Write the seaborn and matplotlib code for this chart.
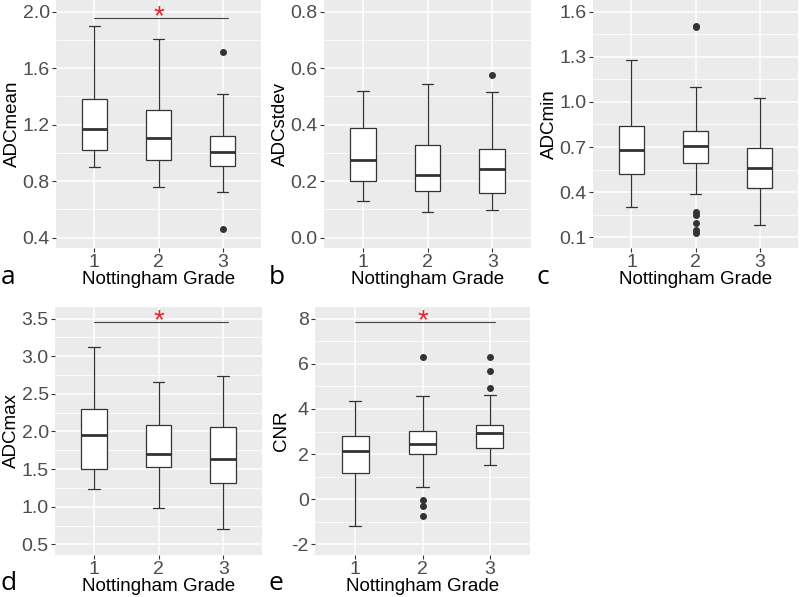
import matplotlib
matplotlib.use("Agg")
import matplotlib.pyplot as plt
from matplotlib.ticker import FixedLocator, FormatStrFormatter
import seaborn as sns

sns.set_theme(
    style="darkgrid",
    rc={
        "axes.facecolor": "#EBEBEB",
        "grid.color": "white",
        "xtick.bottom": True,
        "ytick.left": True,
        "xtick.color": "#333333",
        "ytick.color": "#333333",
        "xtick.labelcolor": "#4D4D4D",
        "ytick.labelcolor": "#4D4D4D",
        "xtick.major.size": 3,
        "ytick.major.size": 3,
        "xtick.major.width": 0.8,
        "ytick.major.width": 0.8,
        "xtick.major.pad": 1.0,
        "ytick.major.pad": 1.5,
    },
)
plt.rcParams["font.family"] = ["Liberation Sans", "DejaVu Sans"]

grades = [1, 2, 3]
grade_labels = ["1", "2", "3"]

# ADCmean
adcmean_med = [1.172, 1.106, 1.006]
adcmean_q1 = [1.023, 0.947, 0.907]
adcmean_q3 = [1.382, 1.301, 1.122]
adcmean_lo = [0.898, 0.756, 0.721]
adcmean_hi = [1.899, 1.804, 1.415]
adcmean_out = [[], [], [1.712, 0.459]]

# ADCstdev
adcstdev_med = [0.274, 0.221, 0.242]
adcstdev_q1 = [0.199, 0.165, 0.158]
adcstdev_q3 = [0.389, 0.329, 0.315]
adcstdev_lo = [0.130, 0.091, 0.099]
adcstdev_hi = [0.519, 0.545, 0.516]
adcstdev_out = [[], [], [0.577]]

# ADCmin
adcmin_med = [0.682, 0.704, 0.558]
adcmin_q1 = [0.523, 0.596, 0.425]
adcmin_q3 = [0.841, 0.806, 0.691]
adcmin_lo = [0.301, 0.388, 0.182]
adcmin_hi = [1.279, 1.096, 1.023]
adcmin_out = [[], [1.507, 1.496, 0.268, 0.250, 0.195, 0.151, 0.129], []]

# ADCmax
adcmax_med = [1.951, 1.695, 1.637]
adcmax_q1 = [1.500, 1.522, 1.314]
adcmax_q3 = [2.305, 2.088, 2.066]
adcmax_lo = [1.230, 0.978, 0.704]
adcmax_hi = [3.119, 2.659, 2.734]
adcmax_out = [[], [], []]

# CNR
cnr_med = [2.159, 2.469, 2.941]
cnr_q1 = [1.171, 1.982, 2.263]
cnr_q3 = [2.794, 3.030, 3.310]
cnr_lo = [-1.203, 0.522, 1.496]
cnr_hi = [4.342, 4.593, 4.608]
cnr_out = [[], [6.304, -0.038, -0.289, -0.761], [6.289, 5.670, 4.947]]

# significance bars (y level), None = no bar
sig_levels = [1.958, None, None, 3.460, 7.867]

panels = [
    ("ADCmean", "a", (adcmean_med, adcmean_q1, adcmean_q3, adcmean_lo, adcmean_hi, adcmean_out),
     [0.4, 0.8, 1.2, 1.6, 2.0], "%.1f", (0.327, 2.083)),
    ("ADCstdev", "b", (adcstdev_med, adcstdev_q1, adcstdev_q3, adcstdev_lo, adcstdev_hi, adcstdev_out),
     [0.0, 0.2, 0.4, 0.6, 0.8], "%.1f", (-0.037, 0.841)),
    ("ADCmin", "c", (adcmin_med, adcmin_q1, adcmin_q3, adcmin_lo, adcmin_hi, adcmin_out),
     [0.1, 0.4, 0.7, 1.0, 1.3, 1.6], "%.1f", (0.029, 1.677)),
    ("ADCmax", "d", (adcmax_med, adcmax_q1, adcmax_q3, adcmax_lo, adcmax_hi, adcmax_out),
     [0.5, 1.0, 1.5, 2.0, 2.5, 3.0, 3.5], "%.1f", (0.358, 3.655)),
    ("CNR", "e", (cnr_med, cnr_q1, cnr_q3, cnr_lo, cnr_hi, cnr_out),
     [-2, 0, 2, 4, 6, 8], "%d", (-2.47, 8.516)),
]

W, H = 800, 597
# axes boxes in pixels: left, top, right, bottom
boxes = [
    (56, 0, 261, 248),
    (324, 0, 531, 248),
    (593, 0, 798, 248),
    (55, 307, 262, 555),
    (315, 307, 530, 555),
]
# letter left x, bottom y (pixels)
letter_pos = [(1, 290), (269, 290), (537, 290), (1, 596), (269, 596)]

fig = plt.figure(figsize=(8, 5.97), dpi=100)

for i, (ylabel, letter, st, yticks, fmt, ylim) in enumerate(panels):
    l, t, r, b = boxes[i]
    ax = fig.add_axes([l / W, 1 - b / H, (r - l) / W, (b - t) / H])
    med, q1, q3, lo, hi, out = st
    stats = [
        {"med": med[k], "q1": q1[k], "q3": q3[k], "whislo": lo[k], "whishi": hi[k], "fliers": out[k]}
        for k in range(3)
    ]
    ax.bxp(
        stats,
        positions=grades,
        widths=0.4,
        capwidths=0.18,
        patch_artist=True,
        showfliers=True,
        boxprops=dict(facecolor="white", edgecolor="#333333", linewidth=0.9),
        whiskerprops=dict(color="#333333", linewidth=0.9),
        capprops=dict(color="#333333", linewidth=0.9),
        medianprops=dict(color="#333333", linewidth=2.0),
        flierprops=dict(marker="o", markerfacecolor="#333333", markeredgecolor="#333333", markersize=4),
        zorder=3,
    )
    ax.set_xlim(0.4, 3.6)
    ax.set_ylim(*ylim)
    ax.set_xticks(grades)
    ax.set_xticklabels(grade_labels)
    ax.yaxis.set_major_locator(FixedLocator(yticks))
    ax.yaxis.set_major_formatter(FormatStrFormatter(fmt))
    step = yticks[1] - yticks[0]
    minors = [yticks[0] - step / 2] + [y + step / 2 for y in yticks]
    ax.yaxis.set_minor_locator(FixedLocator(minors))
    ax.tick_params(axis="y", which="minor", left=False)
    ax.grid(which="major", color="white", linewidth=1.1)
    ax.grid(which="minor", axis="y", color="white", linewidth=0.55)
    ax.set_axisbelow(True)
    for s in ax.spines.values():
        s.set_visible(False)
    ax.tick_params(labelsize=14)
    ax.set_xlabel("Nottingham Grade", fontsize=13.5, color="black", labelpad=0)
    ax.set_ylabel(ylabel, fontsize=13.5, color="black", labelpad=1)

    if sig_levels[i] is not None:
        ax.plot([1, 3.08], [sig_levels[i]] * 2, color="#444444", linewidth=0.8, zorder=4)
        ax.annotate("*", xy=(2, sig_levels[i]), xytext=(0, -5), textcoords="offset points",
                    ha="center", va="baseline", color="#E8202A", fontsize=20)

    lx, ly = letter_pos[i]
    fig.text(lx / W, 1 - ly / H, letter, fontsize=19, family=["Open Sans", "DejaVu Sans"],
             ha="left", va="bottom", color="black")

fig.savefig("out.png", dpi=100)
